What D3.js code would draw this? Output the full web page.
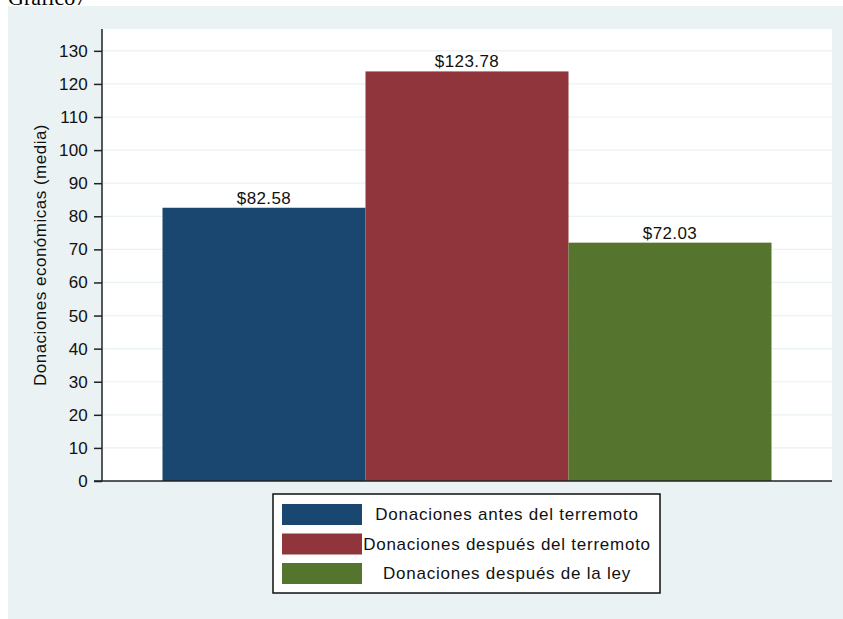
<!DOCTYPE html>
<html>
<head>
<meta charset="utf-8">
<script src="https://cdn.jsdelivr.net/npm/d3@7"></script>
<style>
  html, body { margin: 0; padding: 0; background: #ffffff; }
  svg { display: block; }
</style>
</head>
<body>
<svg id="chart" width="843" height="619"></svg>
<script>
const categories = ["Donaciones antes del terremoto", "Donaciones después del terremoto", "Donaciones después de la ley"];
const values = [82.58, 123.78, 72.03];
const colors = ["#1a476f", "#90353b", "#55752f"];
const yTicks = [0, 10, 20, 30, 40, 50, 60, 70, 80, 90, 100, 110, 120, 130];
const yTitle = "Donaciones económicas (media)";
const docTitle = "Gráfico7";

const svg = d3.select("#chart");
const font = "'Liberation Sans', Arial, sans-serif";
const textColor = "#111";

// document title (cut at top, as in the reference)
svg.append("text").attr("x", 8).attr("y", 5)
  .attr("font-family", "'Liberation Serif', 'Times New Roman', serif")
  .attr("font-size", 22).attr("fill", "#000").text(docTitle);

// graph region
svg.append("rect").attr("x", 8).attr("y", 6).attr("width", 835).attr("height", 613).attr("fill", "#eaf2f3");

const plot = { left: 102, right: 832, top: 29, bottom: 481 };
svg.append("rect").attr("x", plot.left).attr("y", plot.top)
  .attr("width", plot.right - plot.left).attr("height", plot.bottom - plot.top).attr("fill", "#fff");

const y = d3.scaleLinear().domain([0, 136.6]).range([plot.bottom, plot.top]);
const x = d3.scaleBand().domain(categories).range([plot.left, plot.right]).paddingInner(0).paddingOuter(0.298);

// gridlines
svg.append("g").selectAll("line").data(yTicks.filter(d => d > 0)).join("line")
  .attr("x1", plot.left).attr("x2", plot.right)
  .attr("y1", d => y(d)).attr("y2", d => y(d))
  .attr("stroke", "#eaf2f3").attr("stroke-width", 1.2);

// bars
svg.append("g").selectAll("rect").data(categories).join("rect")
  .attr("x", d => x(d)).attr("width", x.bandwidth())
  .attr("y", (d, i) => y(values[i])).attr("height", (d, i) => y(0) - y(values[i]))
  .attr("fill", (d, i) => colors[i]);

// bar labels
svg.append("g").selectAll("text").data(categories).join("text")
  .attr("x", d => x(d) + x.bandwidth() / 2)
  .attr("y", (d, i) => y(values[i]) - 4)
  .attr("text-anchor", "middle")
  .attr("font-family", font).attr("font-size", 17).attr("letter-spacing", 0.4)
  .attr("fill", textColor)
  .text((d, i) => "$" + values[i].toFixed(2));

// y axis
const yAxis = svg.append("g").attr("transform", `translate(${plot.left},0)`)
  .call(d3.axisLeft(y).tickValues(yTicks).tickSize(8).tickPadding(6).tickSizeOuter(0));
yAxis.select(".domain").attr("stroke", "#222").attr("stroke-width", 1.5)
  .attr("d", `M0,${plot.top}V${plot.bottom}`);
yAxis.selectAll(".tick line").attr("stroke", "#222").attr("stroke-width", 1.5);
yAxis.selectAll(".tick text").attr("font-family", font).attr("font-size", 17)
  .attr("fill", textColor).attr("letter-spacing", 0.2);

// x axis line
svg.append("line").attr("x1", plot.left - 8).attr("x2", plot.right)
  .attr("y1", plot.bottom).attr("y2", plot.bottom)
  .attr("stroke", "#222").attr("stroke-width", 1.6);

// y title
svg.append("text")
  .attr("transform", `translate(46,255) rotate(-90)`)
  .attr("text-anchor", "middle")
  .attr("font-family", font).attr("font-size", 17).attr("letter-spacing", 0.5)
  .attr("fill", textColor).text(yTitle);

// legend
const lg = svg.append("g");
lg.append("rect").attr("x", 273).attr("y", 494).attr("width", 387).attr("height", 99)
  .attr("fill", "#fff").attr("stroke", "#111").attr("stroke-width", 1.5);
const rowY = d3.scalePoint().domain(categories).range([504, 563]);
lg.selectAll("rect.sw").data(categories).join("rect").attr("class", "sw")
  .attr("x", 282).attr("y", d => rowY(d)).attr("width", 80).attr("height", 21)
  .attr("fill", (d, i) => colors[i]);
lg.selectAll("text").data(categories).join("text")
  .attr("x", 507).attr("y", d => rowY(d) + 16)
  .attr("text-anchor", "middle")
  .attr("font-family", font).attr("font-size", 17).attr("letter-spacing", 0.75)
  .attr("fill", textColor).text(d => d);
</script>
</body>
</html>
